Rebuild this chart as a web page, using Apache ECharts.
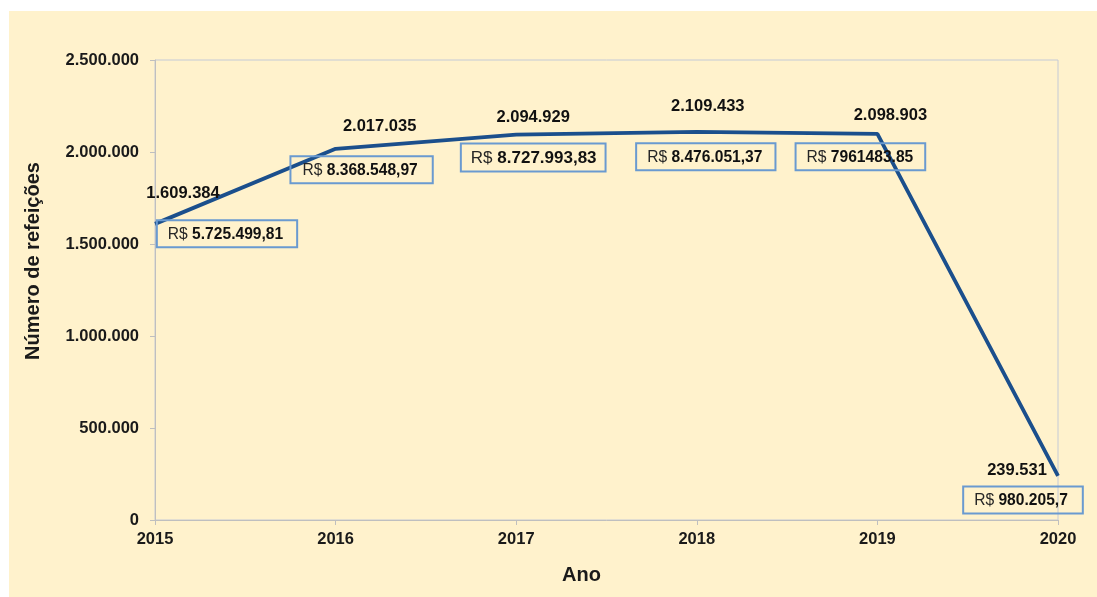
<!DOCTYPE html>
<html>
<head>
<meta charset="utf-8">
<script src="https://cdn.jsdelivr.net/npm/echarts@6/dist/echarts.min.js"></script>
<style>
  html, body { margin: 0; padding: 0; background: #fff; }
  #chart { position: absolute; left: 9px; top: 11px; width: 1088px; height: 586px; background: #fff2cc; }
</style>
</head>
<body>
<div id="chart"></div>
<script>
// dados
var anos = ['2015', '2016', '2017', '2018', '2019', '2020'];
var refeicoes = [1609384, 2017035, 2094929, 2109433, 2098903, 239531];
var refeicoesLabels = ['1.609.384', '2.017.035', '2.094.929', '2.109.433', '2.098.903', '239.531'];
var valoresRS = ['5.725.499,81', '8.368.548,97', '8.727.993,83', '8.476.051,37', '7961483.85', '980.205,7'];
var yTicks = ['0', '500.000', '1.000.000', '1.500.000', '2.000.000', '2.500.000'];

// deslocamento dos rotulos (layout)
var offValor = [[28, -30], [44, -22], [17, -17], [11, -25], [13, -18], [-41, -5]];
var offCaixa = [[72, 10], [26, 21], [17, 23], [9, 25], [-17, 23], [-35, 24]];
var fonteCaixa = [15.6, 15.6, 17, 15.6, 15.6, 15.6];
var padCaixa = [[6, 14, 5, 11], [6, 15, 5, 12], [6, 9, 5, 10], [6, 13, 5, 11], [6, 12, 5, 11], [6, 15, 5, 11]];

var myChart = echarts.init(document.getElementById('chart'));

var serieValor = refeicoes.map(function (v, i) {
    return {
        value: v,
        label: { show: true, position: 'inside', offset: offValor[i], formatter: refeicoesLabels[i] }
    };
});
var serieCaixa = refeicoes.map(function (v, i) {
    return {
        value: v,
        label: {
            show: true, position: 'inside', offset: offCaixa[i],
            padding: padCaixa[i],
            formatter: '{a|R$ }{b|' + valoresRS[i] + '}',
            rich: {
                a: { fontSize: fonteCaixa[i], color: '#262626' },
                b: { fontSize: fonteCaixa[i], fontWeight: 'bold', color: '#111' }
            }
        }
    };
});

var option = {
    animation: false,
    textStyle: { fontFamily: 'Liberation Sans, Arial, sans-serif' },
    grid: {
        left: 146, right: 39, top: 49, bottom: 77,
        show: true, borderColor: '#c4cad6', borderWidth: 1, backgroundColor: 'transparent'
    },
    xAxis: {
        type: 'category',
        data: anos,
        boundaryGap: false,
        name: 'Ano',
        nameLocation: 'middle',
        nameGap: 45,
        nameTextStyle: { fontSize: 20, fontWeight: 'bold', color: '#1a1a1a', padding: [0, 50, 0, 0] },
        axisLine: { lineStyle: { color: '#bfbfbf' } },
        axisTick: { show: true, length: 5, lineStyle: { color: '#bfbfbf' } },
        axisLabel: { fontSize: 16.5, fontWeight: 'bold', color: '#1a1a1a', margin: 11 },
        splitLine: { show: false }
    },
    yAxis: {
        type: 'value',
        min: 0, max: 2500000, interval: 500000,
        name: 'Número de refeições',
        nameLocation: 'middle',
        nameGap: 112,
        nameRotate: 90,
        nameTextStyle: { fontSize: 20, fontWeight: 'bold', color: '#1a1a1a', padding: [0, 0, 0, 58] },
        axisLine: { show: true, lineStyle: { color: '#bfbfbf' } },
        axisTick: { show: true, length: 5, lineStyle: { color: '#bfbfbf' } },
        axisLabel: {
            fontSize: 16.5, fontWeight: 'bold', color: '#1a1a1a', margin: 16,
            formatter: function (v) { return yTicks[v / 500000]; }
        },
        splitLine: { show: false }
    },
    series: [
        {
            name: 'Refeições',
            type: 'line',
            data: serieValor,
            symbol: 'circle',
            symbolSize: 0,
            showSymbol: true,
            lineStyle: { color: '#1b4f8c', width: 3.8 },
            label: { fontSize: 16.5, fontWeight: 'bold', color: '#111' },
            z: 3
        },
        {
            name: 'Valor',
            type: 'line',
            data: serieCaixa,
            symbol: 'circle',
            symbolSize: 0,
            showSymbol: true,
            lineStyle: { opacity: 0 },
            label: {
                borderColor: '#6a9ad0',
                borderWidth: 1,
                backgroundColor: 'transparent'
            },
            z: 4
        }
    ]
};

myChart.setOption(option);
</script>
</body>
</html>
